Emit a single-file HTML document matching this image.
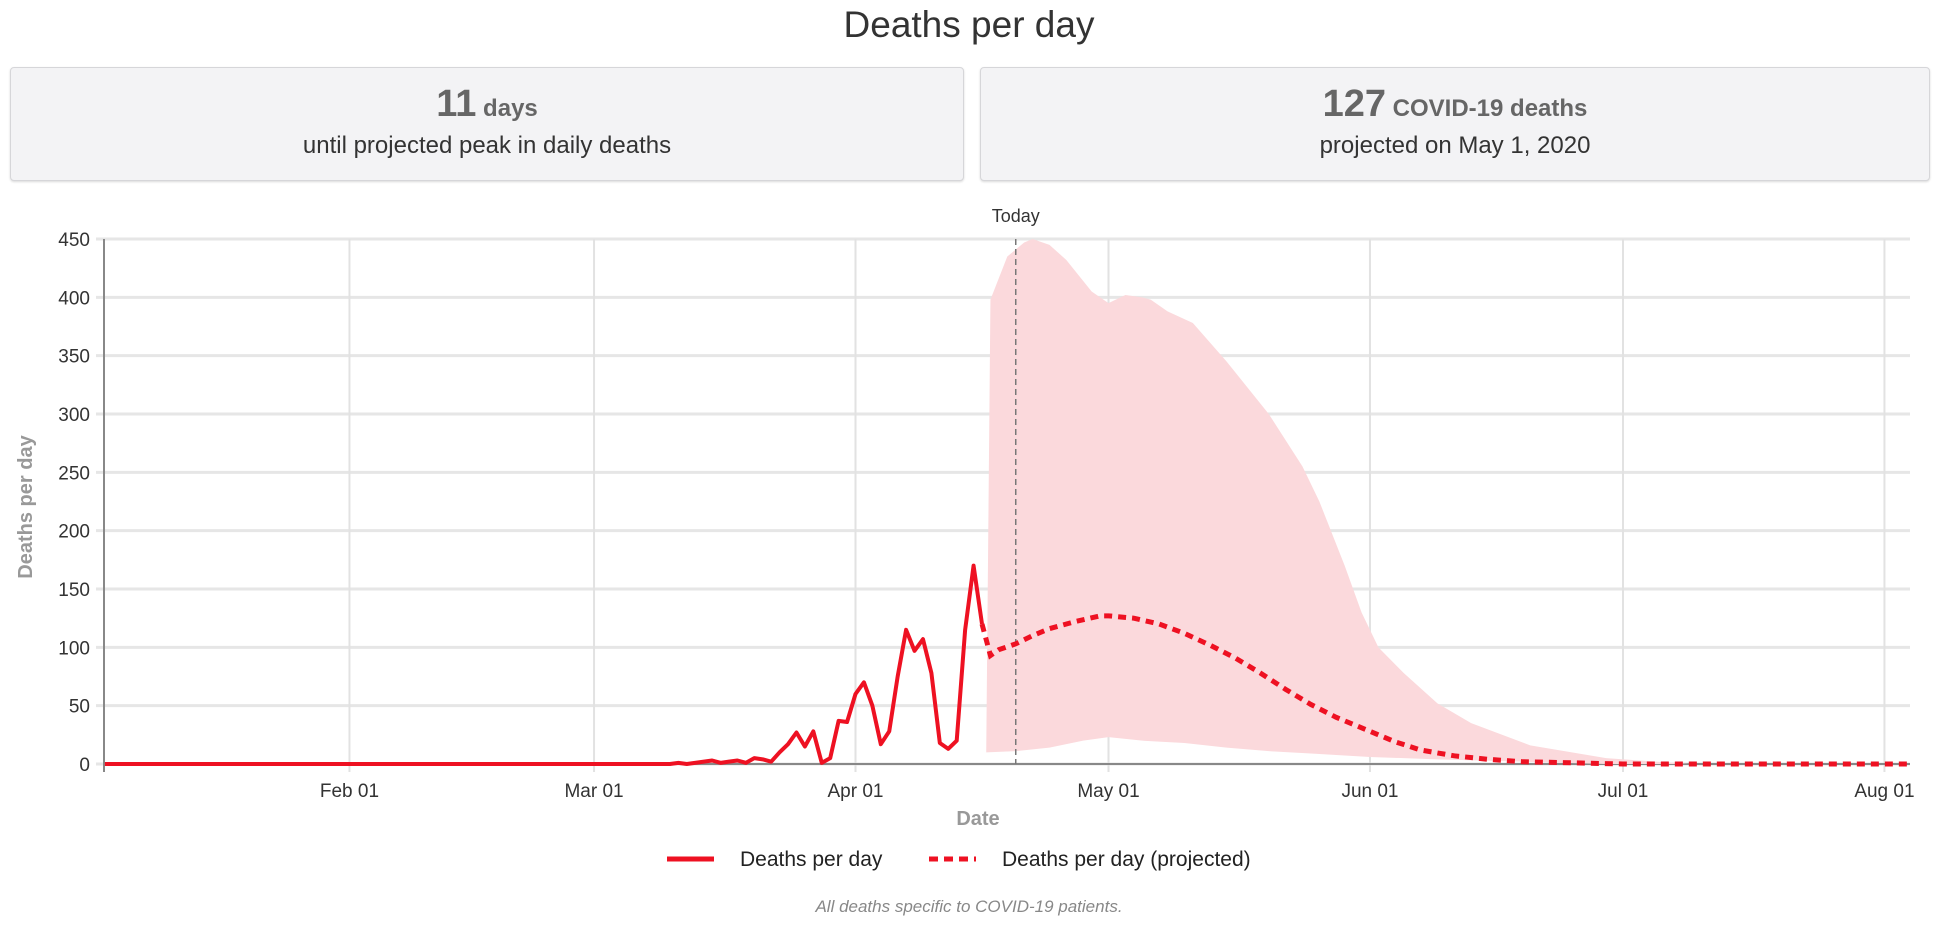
<!DOCTYPE html>
<html><head><meta charset="utf-8"><style>
body{margin:0;width:1938px;height:925px;background:#fff;font-family:"Liberation Sans",sans-serif;position:relative;overflow:hidden}
.title{position:absolute;left:0;width:1938px;top:4px;text-align:center;font-size:37px;color:#333}
.box{position:absolute;top:67px;height:112px;background:#f3f3f5;border:1px solid #d6d6d9;border-radius:4px;box-shadow:0 1px 2px rgba(0,0,0,.15);text-align:center;color:#444}
.big{margin-top:16px;font-weight:bold;color:#666;font-size:24px;line-height:40px}
.big b{font-size:38px}
.sub{font-size:24px;line-height:34px;color:#333}
</style></head><body>
<div class="title">Deaths per day</div>
<div class="box" style="left:10px;width:952px"><div class="big"><b>11</b> days</div><div class="sub">until projected peak in daily deaths</div></div>
<div class="box" style="left:980px;width:948px"><div class="big"><b>127</b> COVID-19 deaths</div><div class="sub">projected on May 1, 2020</div></div>
<svg id="chart" width="1938" height="925" style="position:absolute;left:0;top:0"></svg>
<script>
const actualDays=[2,69,70,71,74,75,76,77,78,79,80,81,82,83,84,85,86,87,88,89,90,91,92,93,94,95,96,97,98,99,100,101,102,103,104,105,106];
const actualVals=[0,0,1,0,3,1,2,3,1,5,4,2,10,17,27,15,28,1,5,37,36,60,70,50,17,28,75,115,97,107,78,18,13,20,115,170,120];
const projDays=[106,107,108,110,112,114,117,120,121,124,127,130,133,136,139,142,145,148,152,155,158,162,166,170,176,182,216];
const projVals=[120,93,98,103,110,116,122,127,127,125,120,112,102,91,78,64,51,40,28,19,12,7,4,2,1,0,0];
const upDays=[106.5,107,109,111,112,114,116,119,121,123,125,126,128,131,135,140,144,146,149,151,153,156,160,164,171,180,190,216];
const upVals=[10,398,435,447,450,445,432,405,395,402,400,398,388,378,345,300,255,225,170,130,100,78,52,35,16,5,0,0];
const loDays=[106.5,110,114,118,121,125,130,135,140,145,152,160,170,180,216];
const loVals=[10,11,14,20,23,20,18,14,11,9,6,4,2,0,0];
const yTicks=[0,50,100,150,200,250,300,350,400,450];
const xTickDays=[31,60,91,121,152,182,213];
const xTickLabels=["Feb 01","Mar 01","Apr 01","May 01","Jun 01","Jul 01","Aug 01"];
const todayDay=110;
const L=104,R=1910,T=239,B=764;
const X=d=>88+d*8.434, Y=v=>B-(v/450)*(B-T);
const svg=document.getElementById('chart');const NS='http://www.w3.org/2000/svg';
function mk(t,a,txt){const e=document.createElementNS(NS,t);for(const k in a)e.setAttribute(k,a[k]);if(txt!=null)e.textContent=txt;svg.appendChild(e);return e;}
yTicks.forEach(v=>{
 const g=mk('line',{x1:L-8,x2:R,y1:Y(v),y2:Y(v),stroke:'#e6e6e6','stroke-width':3});
 
 const t=mk('text',{x:L-14,y:Y(v)+7,'text-anchor':'end','font-size':19,fill:'#333'},v);
 
});
xTickDays.forEach((d,i)=>{
 const g=mk('line',{x1:X(d),x2:X(d),y1:T,y2:B+8,stroke:'#e2e2e2','stroke-width':2});
 
 const t=mk('text',{x:X(d),y:B+33,'text-anchor':'middle','font-size':19,fill:'#333'},xTickLabels[i]);
 
});
const ax=mk('line',{x1:L,x2:L,y1:T,y2:B+8,stroke:'#888','stroke-width':2});

const ax2=mk('line',{x1:L,x2:R,y1:B,y2:B,stroke:'#888','stroke-width':2});

let d='M'+upDays.map((x,i)=>X(x)+','+Y(upVals[i])).join('L');
for(let i=loDays.length-1;i>=0;i--)d+='L'+X(loDays[i])+','+Y(loVals[i]);
const band=mk('path',{d:d+'Z',fill:'#fbd9dc'});

const tl=mk('line',{x1:X(todayDay),x2:X(todayDay),y1:T,y2:B,stroke:'#777','stroke-width':1.5,'stroke-dasharray':'6,4'});

const tt=mk('text',{x:X(todayDay),y:222,'text-anchor':'middle','font-size':18,fill:'#333'},'Today');

const pts=(ds,vs)=>ds.map((x,i)=>X(x)+','+Y(vs[i])).join(' ');
const al=mk('polyline',{points:pts(actualDays,actualVals),fill:'none',stroke:'#ee1122','stroke-width':4,'stroke-linejoin':'round'});

const pl=mk('polyline',{points:pts(projDays,projVals),fill:'none',stroke:'#ee1122','stroke-width':5,'stroke-dasharray':'8,6'});

const yt=mk('text',{x:0,y:0,transform:'translate(32,507) rotate(-90)','text-anchor':'middle','font-size':20,'font-weight':'bold',fill:'#999'},'Deaths per day');

const xt=mk('text',{x:978,y:825,'text-anchor':'middle','font-size':20,'font-weight':'bold',fill:'#999'},'Date');

const l1=mk('line',{x1:667,x2:714,y1:859,y2:859,stroke:'#ee1122','stroke-width':5});

const lt1=mk('text',{x:740,y:866,'font-size':21,fill:'#222'},'Deaths per day');

const l2=mk('line',{x1:929,x2:976,y1:859,y2:859,stroke:'#ee1122','stroke-width':5,'stroke-dasharray':'9,6'});

const lt2=mk('text',{x:1002,y:866,'font-size':21,fill:'#222'},'Deaths per day (projected)');

const fn=mk('text',{x:969,y:912,'text-anchor':'middle','font-size':17,'font-style':'italic',fill:'#888'},'All deaths specific to COVID-19 patients.');

</script>
</body></html>
